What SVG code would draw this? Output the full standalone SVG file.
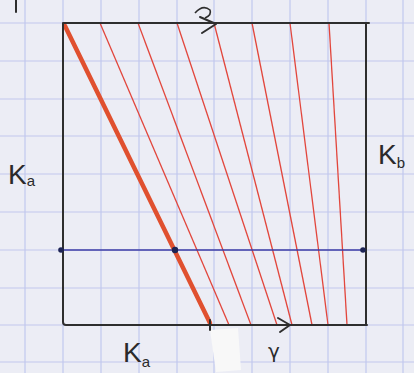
<svg xmlns="http://www.w3.org/2000/svg" width="414" height="373" viewBox="0 0 414 373">
<defs>
<style>
.grid line{stroke:#c2c8ee;stroke-width:1.2}
.frame{stroke:#2e2e2e;stroke-width:2;fill:none;stroke-linecap:round;stroke-linejoin:round}
.red{stroke:#e2463c;stroke-width:1.3;fill:none}
.thick{stroke:#e0502f;stroke-width:4.5;stroke-linecap:round}
.blue{stroke:#3c3ca6;stroke-width:1.6}
.dot{fill:#1e2455}
.lbl{font-family:"Liberation Sans","DejaVu Sans",sans-serif;fill:#2a2a2a}
.greek{font-family:"DejaVu Sans",sans-serif;fill:#2a2a2a}
</style>
</defs>
<rect width="414" height="373" fill="#ecedf5"/>
<g class="grid">
<line x1="25" y1="0" x2="25" y2="373"/><line x1="63" y1="0" x2="63" y2="373"/><line x1="101" y1="0" x2="101" y2="373"/><line x1="139" y1="0" x2="139" y2="373"/><line x1="177" y1="0" x2="177" y2="373"/><line x1="214" y1="0" x2="214" y2="373"/><line x1="252" y1="0" x2="252" y2="373"/><line x1="290" y1="0" x2="290" y2="373"/><line x1="328" y1="0" x2="328" y2="373"/><line x1="366" y1="0" x2="366" y2="373"/><line x1="403" y1="0" x2="403" y2="373"/>
<line x1="0" y1="23" x2="414" y2="23"/><line x1="0" y1="61" x2="414" y2="61"/><line x1="0" y1="99" x2="414" y2="99"/><line x1="0" y1="136" x2="414" y2="136"/><line x1="0" y1="174" x2="414" y2="174"/><line x1="0" y1="212" x2="414" y2="212"/><line x1="0" y1="250" x2="414" y2="250"/><line x1="0" y1="288" x2="414" y2="288"/><line x1="0" y1="325" x2="414" y2="325"/><line x1="0" y1="362" x2="414" y2="362"/>
</g>
<path d="M210,330 L238,328 L241,370 L216,372 Z" fill="#f8f8f8"/>
<g id="lines">
<line class="red" x1="100" y1="23" x2="229" y2="325"/>
<line class="red" x1="138" y1="23" x2="251" y2="325"/>
<line class="red" x1="177" y1="23" x2="277" y2="325"/>
<line class="red" x1="214" y1="23" x2="292" y2="325"/>
<line class="red" x1="252" y1="23" x2="312" y2="325"/>
<line class="red" x1="290" y1="23" x2="328" y2="325"/>
<line class="red" x1="329" y1="23" x2="347" y2="325"/>
<line class="blue" x1="61" y1="250" x2="363" y2="250"/>
<line class="thick" x1="65" y1="26" x2="210" y2="323"/>
</g>
<g id="frame">
<path class="frame" d="M63,23 L369,23 M63,23 L63,322 Q63,325 66,325 L367,325 M366,23 L366,325"/>
<path class="frame" d="M200,17 L216,24 L202,33"/>
<path class="frame" d="M278,318 L290,325 L280,332"/>
<line class="frame" x1="210" y1="320" x2="210" y2="330"/>
<path d="M195,13 Q203,4 210,10 Q212,15 205,18" stroke="#2e2e2e" stroke-width="1.6" fill="none"/>
<line class="frame" x1="16" y1="0" x2="16" y2="12" stroke-width="1.5"/>
</g>
<g id="dots">
<circle class="dot" cx="61" cy="250" r="2.8"/>
<circle class="dot" cx="175" cy="250" r="3.2"/>
<circle class="dot" cx="363" cy="250" r="2.8"/>
</g>
<g id="labels">
<text class="lbl" x="8" y="184" font-size="28">K<tspan font-size="15" dy="2">a</tspan></text>
<text class="lbl" x="378" y="164" font-size="28">K<tspan font-size="15" dy="4">b</tspan></text>
<text class="lbl" x="123" y="362" font-size="28">K<tspan font-size="15" dy="5">a</tspan></text>
<text class="greek" x="268" y="358" font-size="20">γ</text>
</g>
</svg>
